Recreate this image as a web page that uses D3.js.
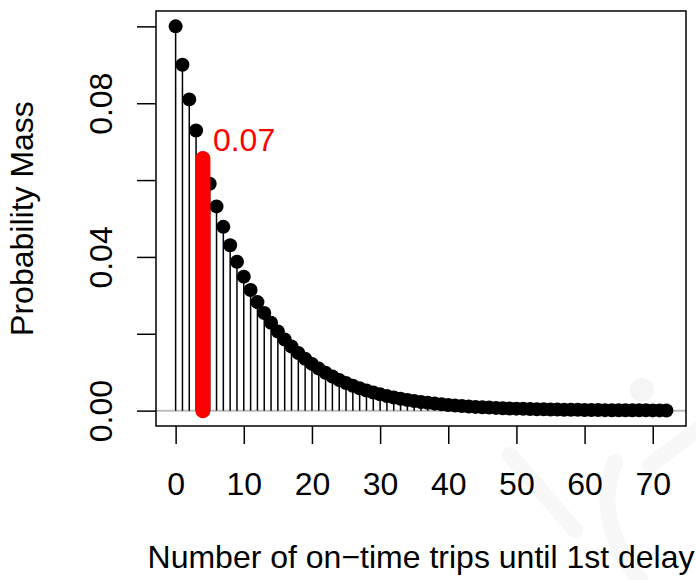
<!DOCTYPE html>
<html>
<head>
<meta charset="utf-8">
<script src="https://cdn.jsdelivr.net/npm/d3@7"></script>
<style>
  html, body { margin: 0; padding: 0; background: #fff; }
  svg { display: block; font-family: "Liberation Sans", Arial, Helvetica, sans-serif; }
</style>
</head>
<body>
<svg id="chart" width="696" height="580"></svg>
<script>
// Number of on-time trips before the first delay (k = 0..72)
const trips = d3.range(0, 73);
// Probability mass for each trip count
const mass = [
  0.100000, 0.090000, 0.081000, 0.072900, 0.065610, 0.059049, 0.053144, 0.047830,
  0.043047, 0.038742, 0.034868, 0.031381, 0.028243, 0.025419, 0.022877, 0.020589,
  0.018530, 0.016677, 0.015009, 0.013509, 0.012158, 0.010942, 0.009848, 0.008863,
  0.007977, 0.007179, 0.006461, 0.005815, 0.005233, 0.004710, 0.004239, 0.003815,
  0.003434, 0.003090, 0.002781, 0.002503, 0.002253, 0.002028, 0.001825, 0.001642,
  0.001478, 0.001330, 0.001197, 0.001078, 0.000970, 0.000873, 0.000786, 0.000707,
  0.000636, 0.000573, 0.000515, 0.000464, 0.000417, 0.000376, 0.000338, 0.000304,
  0.000274, 0.000247, 0.000222, 0.000200, 0.000180, 0.000162, 0.000146, 0.000131,
  0.000118, 0.000106, 0.000096, 0.000086, 0.000077, 0.000070, 0.000063, 0.000056,
  0.000051
];
// Highlighted trip count
const highlight = 4;
const xTicks = [0, 10, 20, 30, 40, 50, 60, 70];
const yTicks = [0, 0.02, 0.04, 0.06, 0.08, 0.10];
const yLabelled = [0, 0.04, 0.08];
const xTitle = "Number of on\u2212time trips until 1st delay";
const yTitle = "Probability Mass";

const svg = d3.select("#chart");
const plot = { left: 156, right: 686, top: 11, bottom: 426 };
const fontSize = 32;

// Faint background logo
const wm = svg.append("g").attr("fill", "none").attr("stroke", "#f7f7f7")
  .attr("stroke-width", 16).attr("stroke-linecap", "round");
wm.append("circle").attr("cx", 642).attr("cy", 390).attr("r", 12)
  .attr("fill", "#f5f5f5").attr("stroke", "none");
wm.append("path").attr("d", "M700,428 L650,465");
wm.append("path").attr("d", "M615,462 Q592,520 640,580");
wm.append("path").attr("d", "M510,455 L575,530");

// Scales with the usual 4% padding around the data range
const xPad = 0.04 * 72, yPad = 0.04 * 0.1;
const x = d3.scaleLinear().domain([0 - xPad, 72 + xPad]).range([plot.left, plot.right]);
const y = d3.scaleLinear().domain([0 - yPad, 0.1 + yPad]).range([plot.bottom, plot.top]);

// Reference line at zero
svg.append("line")
  .attr("x1", plot.left).attr("x2", plot.right)
  .attr("y1", y(0)).attr("y2", y(0))
  .attr("stroke", "#bebebe").attr("stroke-width", 2);

// Stems
svg.append("g").selectAll("line").data(trips).join("line")
  .attr("x1", d => x(d)).attr("x2", d => x(d))
  .attr("y1", y(0)).attr("y2", d => y(mass[d]))
  .attr("stroke", "#000").attr("stroke-width", 1.5);

// Points
svg.append("g").selectAll("circle").data(trips).join("circle")
  .attr("cx", d => x(d)).attr("cy", d => y(mass[d]))
  .attr("r", 7).attr("fill", "#000");

// Highlighted bar and its value
const hv = mass[highlight];
svg.append("line")
  .attr("x1", x(highlight)).attr("x2", x(highlight))
  .attr("y1", y(0)).attr("y2", y(hv))
  .attr("stroke", "red").attr("stroke-width", 15).attr("stroke-linecap", "round");
svg.append("text")
  .attr("x", x(highlight) + 10).attr("y", y(hv) - 8)
  .attr("fill", "red").attr("font-size", fontSize)
  .text(d3.format(".2f")(hv));

// Plot frame
svg.append("rect")
  .attr("x", plot.left).attr("y", plot.top)
  .attr("width", plot.right - plot.left).attr("height", plot.bottom - plot.top)
  .attr("fill", "none").attr("stroke", "#000").attr("stroke-width", 1.5);

// X axis
const xAxis = svg.append("g")
  .attr("transform", `translate(0,${plot.bottom})`)
  .call(d3.axisBottom(x).tickValues(xTicks).tickSize(18).tickPadding(28).tickFormat(d3.format("d")));
xAxis.select(".domain").remove();
xAxis.selectAll(".tick line").attr("stroke", "#000").attr("stroke-width", 1.5);
xAxis.selectAll(".tick text").attr("font-size", fontSize).attr("fill", "#000")
  .attr("font-family", "Liberation Sans, Arial, sans-serif");

// Y axis
const yAxis = svg.append("g")
  .attr("transform", `translate(${plot.left},0)`)
  .call(d3.axisLeft(y).tickValues(yTicks).tickSize(19)
    .tickFormat(d => yLabelled.some(v => Math.abs(v - d) < 1e-9) ? d3.format(".2f")(d) : ""));
yAxis.select(".domain").remove();
yAxis.selectAll(".tick line").attr("stroke", "#000").attr("stroke-width", 1.5);
yAxis.selectAll(".tick text")
  .attr("x", null).attr("dy", null)
  .attr("transform", "translate(-44,0) rotate(-90)")
  .attr("text-anchor", "middle")
  .attr("font-size", fontSize).attr("fill", "#000")
  .attr("font-family", "Liberation Sans, Arial, sans-serif");

// Axis titles
svg.append("text")
  .attr("x", (plot.left + plot.right) / 2).attr("y", 568)
  .attr("text-anchor", "middle").attr("font-size", fontSize)
  .text(xTitle);
svg.append("text")
  .attr("transform", `translate(33,${(plot.top + plot.bottom) / 2}) rotate(-90)`)
  .attr("text-anchor", "middle").attr("font-size", fontSize)
  .text(yTitle);
</script>
</body>
</html>
